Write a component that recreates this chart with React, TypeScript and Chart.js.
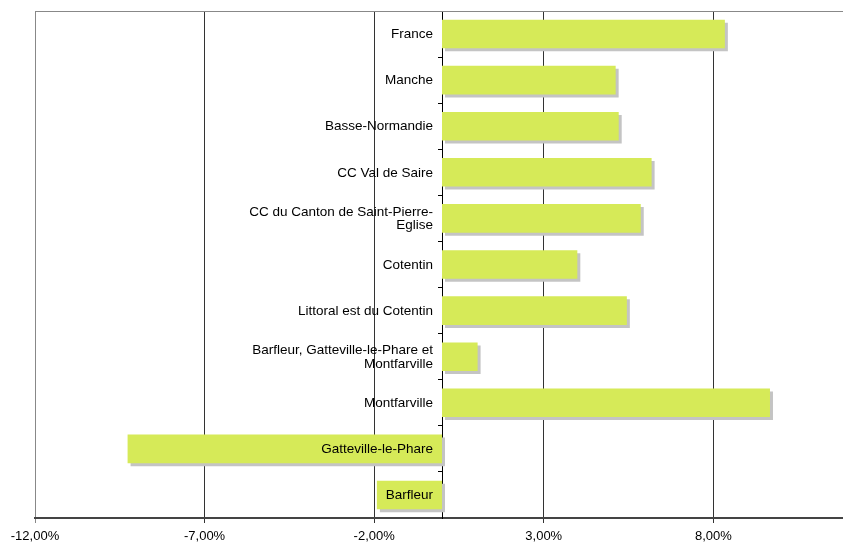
import React, { useEffect, useRef } from 'react';
import { Chart, registerables } from 'chart.js';

Chart.register(...registerables);

const categories: (string | string[])[] = [
  'France',
  'Manche',
  'Basse-Normandie',
  'CC Val de Saire',
  ['CC du Canton de Saint-Pierre-', 'Eglise'],
  'Cotentin',
  'Littoral est du Cotentin',
  ['Barfleur, Gatteville-le-Phare et', 'Montfarville'],
  'Montfarville',
  'Gatteville-le-Phare',
  'Barfleur',
];

const values = [8.34, 5.12, 5.21, 6.18, 5.86, 3.99, 5.45, 1.05, 9.67, -9.27, -1.92];

const xTickValues = [-12, -7, -2, 3, 8];

const FONT = '"Liberation Sans", Arial, sans-serif';

const shadowPlugin = {
  id: 'barShadow',
  beforeDatasetDraw(chart: any) {
    const ctx = chart.ctx;
    ctx.save();
    ctx.shadowColor = '#c4c4c4';
    ctx.shadowOffsetX = 3;
    ctx.shadowOffsetY = 3;
    ctx.shadowBlur = 0;
  },
  afterDatasetDraw(chart: any) {
    chart.ctx.restore();
  },
};

const framePlugin = {
  id: 'frameTop',
  beforeDatasetsDraw(chart: any) {
    const { ctx, chartArea } = chart;
    ctx.save();
    ctx.strokeStyle = '#888';
    ctx.lineWidth = 1;
    ctx.beginPath();
    ctx.moveTo(chartArea.left, Math.round(chartArea.top) + 0.5);
    ctx.lineTo(chartArea.right, Math.round(chartArea.top) + 0.5);
    ctx.stroke();
    ctx.restore();
  },
};

// category labels drawn just left of the zero line (the category axis crosses at x = 0)
const categoryLabelPlugin = {
  id: 'categoryLabels',
  afterDraw(chart: any) {
    const { ctx } = chart;
    const xs = chart.scales.x;
    const ys = chart.scales.y;
    const xZero = xs.getPixelForValue(0);
    const lineH = 13.7;
    ctx.save();
    ctx.font = '13.5px ' + FONT;
    ctx.fillStyle = '#000';
    ctx.textAlign = 'right';
    ctx.textBaseline = 'middle';
    const labels = chart.data.labels as (string | string[])[];
    labels.forEach((lab, i) => {
      const y = ys.getPixelForTick(i) + 0.5;
      const lines = Array.isArray(lab) ? lab : [lab];
      const start = y - ((lines.length - 1) * lineH) / 2;
      lines.forEach((ln, k) => {
        ctx.fillText(ln, xZero - 9, start + k * lineH);
      });
    });
    ctx.restore();
  },
};

export default function App() {
  const ref = useRef<HTMLCanvasElement | null>(null);

  useEffect(() => {
    if (!ref.current) return;
    const chart = new Chart(ref.current, {
      type: 'bar',
      data: {
        labels: categories as any,
        datasets: [
          {
            data: values,
            backgroundColor: '#d6ea58',
            borderWidth: 0,
            barPercentage: 0.62,
            categoryPercentage: 1,
          },
        ],
      },
      options: {
        indexAxis: 'y',
        animation: false,
        responsive: false,
        devicePixelRatio: 1,
        layout: { padding: { left: 35, top: 11, right: 11, bottom: 0 } },
        plugins: {
          legend: { display: false },
          tooltip: { enabled: false },
        },
        scales: {
          x: {
            type: 'linear',
            min: -12,
            max: 12,
            afterBuildTicks: (scale: any) => {
              scale.ticks = xTickValues.map((v) => ({ value: v }));
            },
            afterFit: (scale: any) => {
              scale.height = 25;
            },
            grid: {
              color: (c: any) => (c.tick && c.tick.value === -12 ? '#888' : '#333'),
              lineWidth: 1,
              tickLength: 5,
              drawTicks: true,
            },
            border: { color: '#444', width: 2 },
            ticks: {
              padding: 6,
              color: '#000',
              font: { family: FONT, size: 13 },
              maxRotation: 0,
              autoSkip: false,
              callback: (v: any) => Number(v).toFixed(2).replace('.', ',') + '%',
            },
          },
          y: {
            type: 'category',
            position: { x: 0 } as any,
            z: 1,
            grid: {
              drawOnChartArea: false,
              drawTicks: true,
              tickLength: 4,
              color: '#000',
              offset: true,
            },
            border: { color: '#000', width: 1 },
            ticks: { display: false, autoSkip: false },
          },
        },
      },
      plugins: [shadowPlugin, framePlugin, categoryLabelPlugin],
    });
    return () => chart.destroy();
  }, []);

  return (
    <div
      style={{
        position: 'absolute',
        left: 0,
        top: 0,
        width: 843,
        height: 543,
        overflow: 'hidden',
        background: '#fff',
      }}
    >
      <canvas ref={ref} width={860} height={543} style={{ display: 'block' }} />
    </div>
  );
}
